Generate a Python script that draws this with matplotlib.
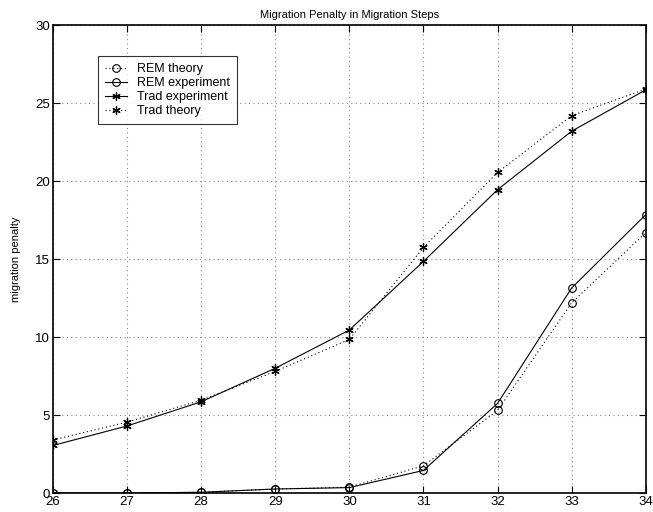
import matplotlib
matplotlib.use("Agg")
import matplotlib.pyplot as plt

plt.rcParams['font.family'] = ['Liberation Sans', 'DejaVu Sans']

steps = [26, 27, 28, 29, 30, 31, 32, 33, 34]
rem_theory = [0.0, 0.0, 0.05, 0.26, 0.38, 1.75, 5.3, 12.2, 16.7]
rem_experiment = [0.0, 0.0, 0.05, 0.26, 0.35, 1.45, 5.75, 13.15, 17.85]
trad_experiment = [3.05, 4.3, 5.85, 8.0, 10.45, 14.85, 19.45, 23.2, 25.85]
trad_theory = [3.4, 4.55, 5.95, 7.8, 9.85, 15.75, 20.55, 24.2, 25.9]

fig = plt.figure(figsize=(6.53, 5.12), dpi=100)
ax = fig.add_axes([0.081, 0.037, 0.908, 0.914])

star = (6, 2, 0)
ax.plot(steps, rem_theory, color='black', linestyle=(0, (1, 2.5)), linewidth=0.8,
        marker='o', markersize=5.5, markerfacecolor='none', markeredgewidth=0.8,
        label='REM theory')
ax.plot(steps, rem_experiment, color='black', linestyle='-', linewidth=0.8,
        marker='o', markersize=5.5, markerfacecolor='none', markeredgewidth=0.8,
        label='REM experiment')
ax.plot(steps, trad_experiment, color='black', linestyle='-', linewidth=0.8,
        marker=star, markersize=6, markeredgewidth=0.9,
        label='Trad experiment')
ax.plot(steps, trad_theory, color='black', linestyle=(0, (1, 2.5)), linewidth=0.8,
        marker=star, markersize=6, markeredgewidth=0.9,
        label='Trad theory')

ax.set_xlim(26, 34)
ax.set_ylim(0, 30)
ax.set_xticks(steps)
ax.set_yticks([0, 5, 10, 15, 20, 25, 30])
ax.grid(True, color='#888888', linestyle=(0, (1, 3)), linewidth=0.8)
ax.tick_params(direction='in', top=True, right=True, length=5, width=0.8,
               labelsize=9.5, pad=2)
for s in ax.spines.values():
    s.set_linewidth(1.2)

ax.set_title('Migration Penalty in Migration Steps', fontsize=8, pad=5)
ax.set_ylabel('migration penalty', fontsize=8, labelpad=10)

leg = ax.legend(loc='upper left', bbox_to_anchor=(0.076, 0.933), fontsize=9,
                frameon=True, fancybox=False, edgecolor='black',
                handlelength=1.8, handletextpad=0.8, borderpad=0.55,
                labelspacing=0.15, borderaxespad=0)
leg.get_frame().set_linewidth(0.8)

fig.savefig('out.png', dpi=100)
